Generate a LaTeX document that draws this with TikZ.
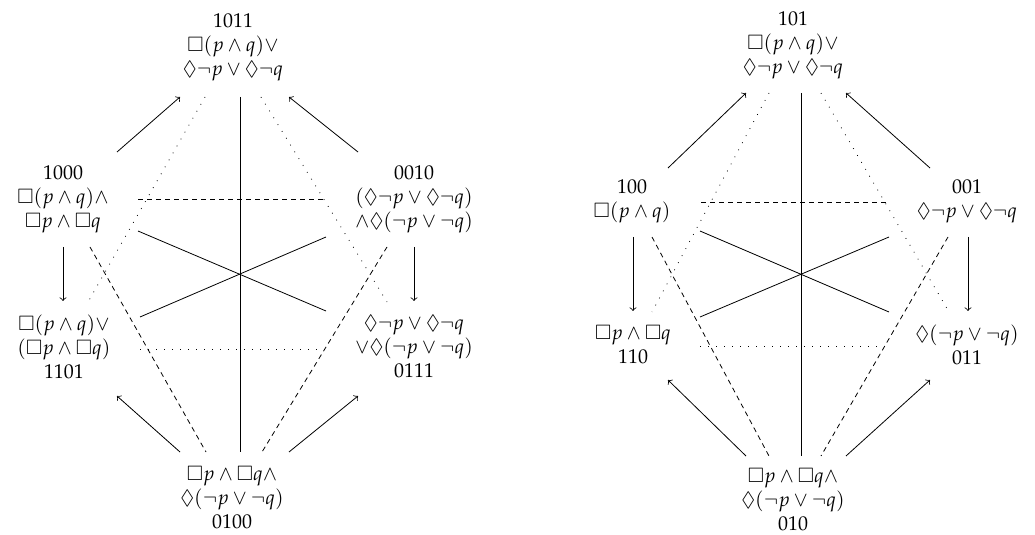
\documentclass[tikz,border=0pt]{standalone}
\usepackage[T1]{fontenc}
\usepackage{mathpazo}
\usepackage{amssymb}
\tikzset{
  lbl/.style={align=center,inner sep=0pt,font=\normalsize},
  conn/.style={line width=0.4pt},
  dsh/.style={conn,dash pattern=on 2.5pt off 2pt},
  dts/.style={conn,dash pattern=on 0.4pt off 3.6pt},
  arr/.style={conn,->},
}
\newcommand{\at}[2]{([shift={#2}]#1.center)}
\begin{document}
\begin{tikzpicture}[x=0.5pt,y=-0.5pt]
\useasboundingbox (0,0) rectangle (1035,535);
% ---------- left diagram ----------
\node[lbl] (T1) at (233,47) {1011\\$\Box(p\wedge q)\vee$\\$\Diamond\neg p\vee\Diamond\neg q$};
\node[lbl] (L1) at (63,199) {1000\\$\Box(p\wedge q)\wedge$\\$\Box p\wedge\Box q$};
\node[lbl] (R1) at (414,199) {0010\\$(\Diamond\neg p\vee\Diamond\neg q)$\\$\wedge\Diamond(\neg p\vee\neg q)$};
\node[lbl] (BL1) at (64,347) {$\Box(p\wedge q)\vee$\\$(\Box p\wedge\Box q)$\\1101};
\node[lbl] (BR1) at (414,347) {$\Diamond\neg p\vee\Diamond\neg q$\\$\vee\Diamond(\neg p\vee\neg q)$\\0111};
\node[lbl] (B1) at (232,498) {$\Box p\wedge\Box q\wedge$\\$\Diamond(\neg p\vee\neg q)$\\0100};

\draw[conn] \at{T1}{(7,50)} -- \at{B1}{(8,-46)};
\draw[dsh] \at{L1}{(75,0)} -- \at{R1}{(-89,0)};
\draw[conn] \at{L1}{(75,32)} -- \at{BR1}{(-88,-36)};
\draw[conn] \at{R1}{(-88,38)} -- \at{BL1}{(76,-30)};
\draw[dts] \at{T1}{(-28,50)} -- \at{BL1}{(24,-45)};
\draw[dts] \at{T1}{(28,50)} -- \at{BR1}{(-27,-45)};
\draw[dsh] \at{L1}{(27,48)} -- \at{B1}{(-26,-46)};
\draw[dsh] \at{R1}{(-27,48)} -- \at{B1}{(30,-46)};
\draw[dts] \at{BL1}{(76,2)} -- \at{BR1}{(-89,2)};
\draw[arr] \at{L1}{(54,-47)} -- \at{T1}{(-53,50)};
\draw[arr] \at{R1}{(-56,-47)} -- \at{T1}{(56,50)};
\draw[arr] \at{L1}{(0,48)} -- \at{BL1}{(-1,-46)};
\draw[arr] \at{R1}{(0,48)} -- \at{BR1}{(0,-46)};
\draw[arr] \at{B1}{(-52,-46)} -- \at{BL1}{(53,49)};
\draw[arr] \at{B1}{(57,-46)} -- \at{BR1}{(-56,49)};

% ---------- right diagram ----------
\node[lbl] (T2) at (793,45) {101\\$\Box(p\wedge q)\vee$\\$\Diamond\neg p\vee\Diamond\neg q$};
\node[lbl] (L2) at (632,201) {100\\$\Box(p\wedge q)$};
\node[lbl] (R2) at (967,201) {001\\$\Diamond\neg p\vee\Diamond\neg q$};
\node[lbl] (BL2) at (633,345) {$\Box p\wedge\Box q$\\110};
\node[lbl] (BR2) at (967,345) {$\Diamond(\neg p\vee\neg q)$\\011};
\node[lbl] (B2) at (793,500) {$\Box p\wedge\Box q\wedge$\\$\Diamond(\neg p\vee\neg q)$\\010};

\draw[conn] \at{T2}{(8,48)} -- \at{B2}{(8,-44)};
\draw[dsh] \at{L2}{(69,1)} -- \at{R2}{(-79,1)};
\draw[conn] \at{L2}{(68,30)} -- \at{BR2}{(-78,-33)};
\draw[conn] \at{R2}{(-78,36)} -- \at{BL2}{(67,-28)};
\draw[dts] \at{T2}{(-24,48)} -- \at{BL2}{(19,-33)};
\draw[dts] \at{T2}{(28,48)} -- \at{BR2}{(-18,-33)};
\draw[dsh] \at{L2}{(20,36)} -- \at{B2}{(-24,-44)};
\draw[dsh] \at{R2}{(-19,36)} -- \at{B2}{(28,-44)};
\draw[dts] \at{BL2}{(67,1)} -- \at{BR2}{(-82,1)};
\draw[arr] \at{L2}{(36,-33)} -- \at{T2}{(-47,48)};
\draw[arr] \at{R2}{(-37,-33)} -- \at{T2}{(53,48)};
\draw[arr] \at{L2}{(1,36)} -- \at{BL2}{(0,-34)};
\draw[arr] \at{R2}{(1,36)} -- \at{BR2}{(1,-34)};
\draw[arr] \at{B2}{(-47,-44)} -- \at{BL2}{(35,35)};
\draw[arr] \at{B2}{(53,-44)} -- \at{BR2}{(-37,35)};
\end{tikzpicture}
\end{document}
